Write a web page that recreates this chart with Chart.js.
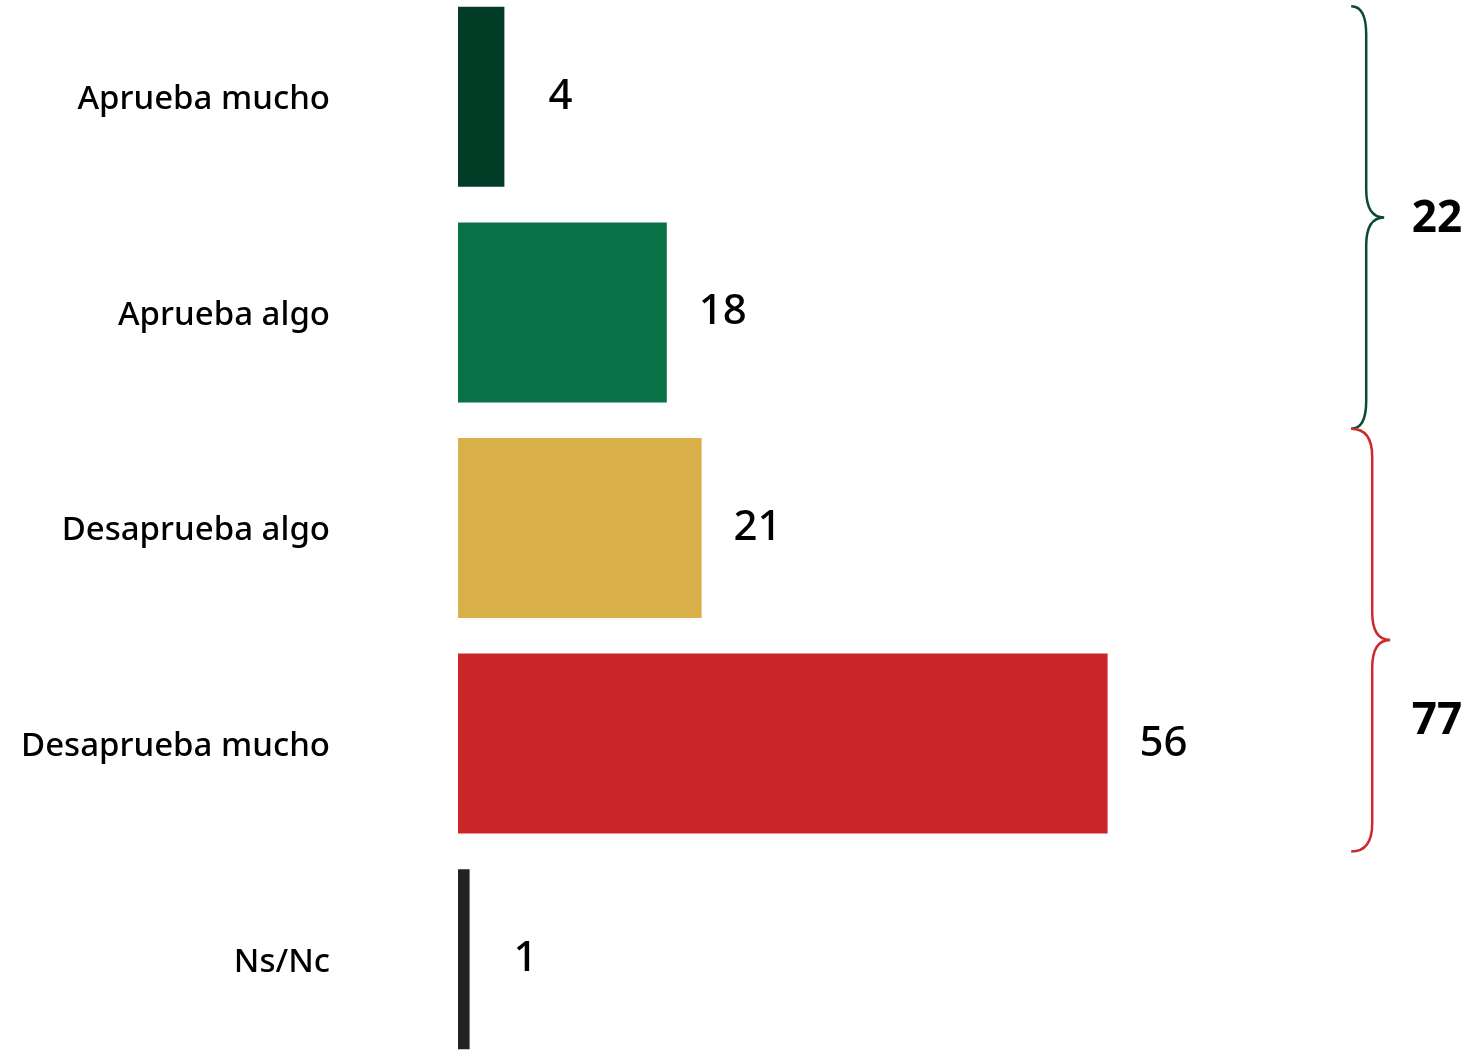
<!DOCTYPE html>
<html>
<head>
<meta charset="utf-8">
<script src="https://cdn.jsdelivr.net/npm/chart.js@4"></script>
<style>
  body { margin: 0; background: #fff; overflow: hidden; }
  #wrap { position: absolute; left: 0; top: -11px; width: 1466px; height: 1078px; }
</style>
</head>
<body>
<div id="wrap"><canvas id="chart" width="1466" height="1078"></canvas></div>
<script>
// datos de la grafica
var categories = ['Aprueba mucho', 'Aprueba algo', 'Desaprueba algo', 'Desaprueba mucho', 'Ns/Nc'];
var values = [4, 18, 21, 56, 1];
var barColors = ['#013d27', '#087145', '#d8af49', '#cb2627', '#222222'];
var groupTotals = [22, 77];
var groupColors = ['#0b4a33', '#cc2a2b'];

var fontFam = '"Noto Sans", "DejaVu Sans", sans-serif';

// etiquetas de valor y llaves de totales
var extras = {
    id: 'extras',
    afterDatasetsDraw: function (chart) {
        var ctx = chart.ctx;
        var meta = chart.getDatasetMeta(0);
        var xs = chart.scales.x, ys = chart.scales.y;
        ctx.save();
        ctx.fillStyle = '#000';
        ctx.font = '500 42px ' + fontFam;
        ctx.textAlign = 'center';
        ctx.textBaseline = 'middle';
        meta.data.forEach(function (bar, i) {
            ctx.fillText(values[i], bar.x + 56, bar.y);
        });

        // llaves: [inicio, fin] en unidades de categoria
        var spans = [[-0.42, 1.54], [1.54, 3.5]];
        var depth = [15, 21];
        var x0 = xs.getPixelForValue(77);
        ctx.lineWidth = 2.5;
        spans.forEach(function (s, g) {
            var top = ys.getPixelForValue(s[0]);
            var bot = ys.getPixelForValue(s[1]);
            var mid = (top + bot) / 2;
            var xv = x0 + depth[g];
            var xt = xv + 18;
            var r = 28;
            ctx.strokeStyle = groupColors[g];
            ctx.beginPath();
            ctx.moveTo(x0, top);
            ctx.quadraticCurveTo(xv, top, xv, top + r);
            ctx.lineTo(xv, mid - r);
            ctx.quadraticCurveTo(xv, mid, xt, mid);
            ctx.quadraticCurveTo(xv, mid, xv, mid + r);
            ctx.lineTo(xv, bot - r);
            ctx.quadraticCurveTo(xv, bot, x0, bot);
            ctx.stroke();
        });

        ctx.fillStyle = '#000';
        ctx.font = '700 44px ' + fontFam;
        var tx = xs.getPixelForValue(84.4);
        ctx.fillText(groupTotals[0], tx, (ys.getPixelForValue(-0.42) + ys.getPixelForValue(1.54)) / 2 + 2);
        ctx.fillText(groupTotals[1], tx, ys.getPixelForValue(3) - 22);
        ctx.restore();
    }
};

var chart = new Chart(document.getElementById('chart').getContext('2d'), {
    type: 'bar',
    data: {
        labels: categories,
        datasets: [{
            data: values,
            backgroundColor: barColors,
            borderWidth: 0,
            categoryPercentage: 1,
            barPercentage: 0.835
        }]
    },
    options: {
        indexAxis: 'y',
        responsive: false,
        animation: false,
        layout: { padding: { top: 0, right: 22, bottom: 0, left: 0 } },
        plugins: {
            legend: { display: false },
            tooltip: { enabled: false }
        },
        scales: {
            x: {
                display: false,
                min: 0,
                max: 85
            },
            y: {
                grid: { display: false, drawTicks: false },
                border: { display: false },
                afterFit: function (scale) {
                    scale.width = 458;
                    scale.paddingTop = 0;
                    scale.paddingBottom = 0;
                },
                ticks: {
                    padding: 128,
                    labelOffset: 3,
                    color: '#000',
                    font: { family: fontFam, size: 33, weight: '500' }
                }
            }
        }
    },
    plugins: [extras]
});
</script>
</body>
</html>
